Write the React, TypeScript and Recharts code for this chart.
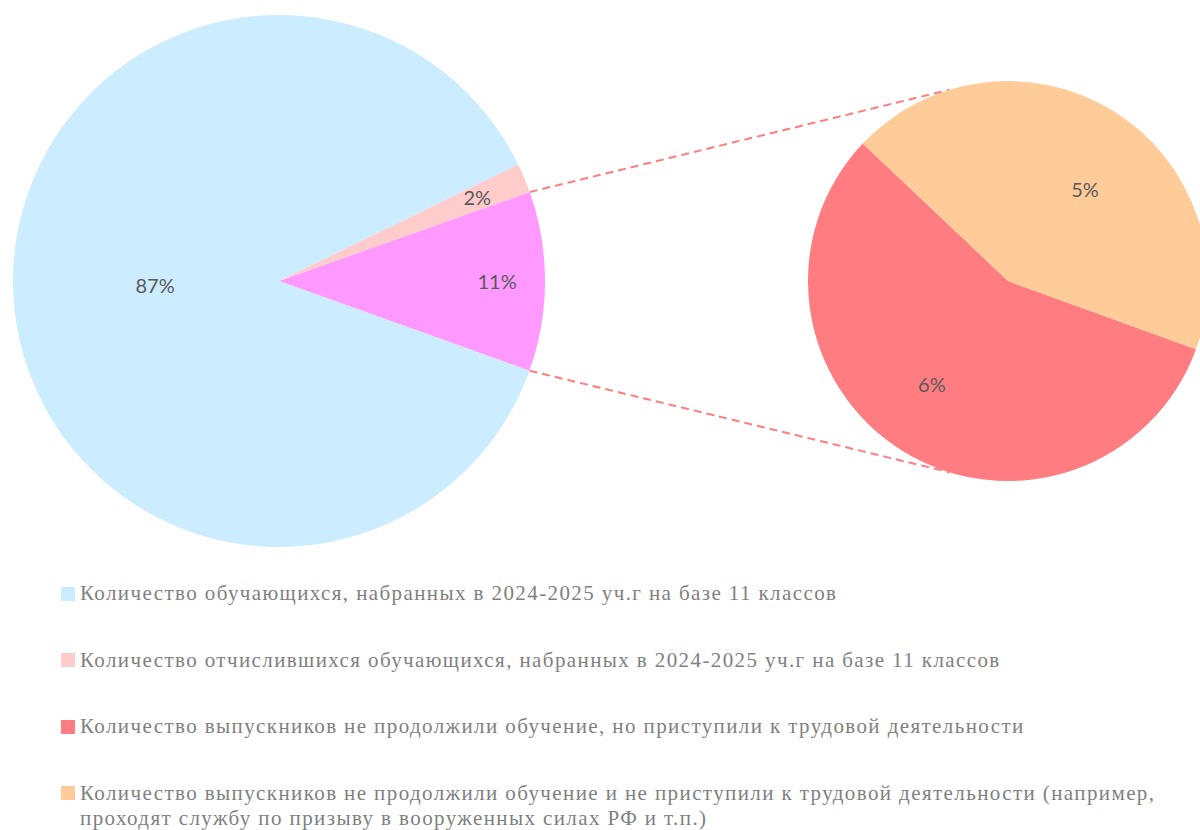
import React from "react";
import { PieChart, Pie, Cell, Customized } from "recharts";

// ---- data ----
const mainNames = ["Прочее", "Количество отчислившихся обучающихся, набранных в 2024-2025 уч.г на базе 11 классов", "Количество обучающихся, набранных в 2024-2025 уч.г на базе 11 классов"];
const mainValues = [10.9, 1.8, 87.3];
const mainLabels = ["11%", "2%", "87%"];
const mainColors = ["#FF99FF", "#FFCCCC", "#CCECFF"];

const subNames = ["Количество выпускников не продолжили обучение, но приступили к трудовой деятельности", "Количество выпускников не продолжили обучение и не приступили к трудовой деятельности (например, проходят службу по призыву в вооруженных силах РФ и т.п.)"];
const subValues = [6.16, 4.74];
const subLabels = ["6%", "5%"];
const subColors = ["#FF7C80", "#FFCC99"];

const legendNames = [
  "Количество обучающихся, набранных в 2024-2025 уч.г на базе 11 классов",
  "Количество отчислившихся обучающихся, набранных в 2024-2025 уч.г на базе 11 классов",
  "Количество выпускников не продолжили обучение, но приступили к трудовой деятельности",
  "Количество выпускников не продолжили обучение и не приступили к трудовой деятельности (например, проходят службу по призыву в вооруженных силах РФ и т.п.)",
];
const legendColors = ["#CCECFF", "#FFCCCC", "#FF7C80", "#FFCC99"];

const mainData = mainNames.map((n, i) => ({ name: n, value: mainValues[i], label: mainLabels[i] }));
const subData = subNames.map((n, i) => ({ name: n, value: subValues[i], label: subLabels[i] }));

// ---- layout / style ----
const W = 1200;
const H = 568;
const MAIN = { cx: 279, cy: 281, r: 266, start: -19.7 };
const SUB = { cx: 1008, cy: 281, r: 200, start: 136.6 };
const CONNECT_SUB_ANGLE = 107;
const mainLabelPos = [
  { f: 0.82, da: 0 },
  { f: 0.81, da: 0.3 },
  { f: 0.466, da: -1.3 },
];
const subLabelPos = [
  { f: 0.64, da: -4.8 },
  { f: 0.6, da: -8.3 },
];
const RAD = Math.PI / 180;

const polar = (cx: number, cy: number, r: number, a: number) => ({
  x: cx + r * Math.cos(-a * RAD),
  y: cy + r * Math.sin(-a * RAD),
});

const makeLabel = (pos: { f: number; da: number }[]) => (props: any) => {
  const { cx, cy, midAngle, outerRadius, index, payload } = props;
  const p = pos[index];
  const pt = polar(cx, cy, outerRadius * p.f, midAngle + p.da);
  return (
    <text
      x={pt.x}
      y={pt.y}
      textAnchor="middle"
      dominantBaseline="central"
      fill="#595959"
      fontFamily="Lato, 'Noto Sans', sans-serif"
      fontSize={20}
    >
      {payload.label}
    </text>
  );
};

const Connectors = () => {
  const total = mainValues.reduce((a, b) => a + b, 0);
  const a1 = MAIN.start;
  const a2 = MAIN.start + (mainValues[0] / total) * 360;
  const p1 = polar(MAIN.cx, MAIN.cy, MAIN.r, a2);
  const q1 = polar(SUB.cx, SUB.cy, SUB.r, CONNECT_SUB_ANGLE);
  const p2 = polar(MAIN.cx, MAIN.cy, MAIN.r, a1);
  const q2 = polar(SUB.cx, SUB.cy, SUB.r, -CONNECT_SUB_ANGLE);
  return (
    <g>
      <line x1={p1.x} y1={p1.y} x2={q1.x} y2={q1.y} stroke="#FF7C80" strokeWidth={2} strokeDasharray="8 5" />
      <line x1={p2.x} y1={p2.y} x2={q2.x} y2={q2.y} stroke="#FF7C80" strokeWidth={2} strokeDasharray="8 5" />
    </g>
  );
};

export default function App() {
  return (
    <div style={{ position: "absolute", left: 0, top: 0, width: W, height: 830, overflow: "hidden", background: "#fff" }}>
      <div style={{ width: W, height: H }}>
        <PieChart width={W} height={H} margin={{ top: 0, right: 0, bottom: 0, left: 0 }}>
          <Pie
            data={mainData}
            dataKey="value"
            cx={MAIN.cx}
            cy={MAIN.cy}
            outerRadius={MAIN.r}
            startAngle={MAIN.start}
            endAngle={MAIN.start + 360}
            stroke="none"
            label={makeLabel(mainLabelPos)}
            labelLine={false}
            isAnimationActive={false}
          >
            {mainData.map((d, i) => (
              <Cell key={i} fill={mainColors[i]} />
            ))}
          </Pie>
          <Pie
            data={subData}
            dataKey="value"
            cx={SUB.cx}
            cy={SUB.cy}
            outerRadius={SUB.r}
            startAngle={SUB.start}
            endAngle={SUB.start + 360}
            stroke="none"
            label={makeLabel(subLabelPos)}
            labelLine={false}
            isAnimationActive={false}
          >
            {subData.map((d, i) => (
              <Cell key={i} fill={subColors[i]} />
            ))}
          </Pie>
          <Customized component={Connectors} />
        </PieChart>
      </div>
      <div style={{ marginTop: 13, fontFamily: "'Liberation Serif', 'Times New Roman', serif", fontSize: 21, lineHeight: "25px", letterSpacing: "1.4px", color: "#808080" }}>
        {legendNames.map((n, i) => (
          <div key={i} style={{ display: "flex", alignItems: "flex-start", marginBottom: i < legendNames.length - 1 ? 41.5 : 0 }}>
            <div style={{ width: 14, height: 14, background: legendColors[i], marginLeft: 61, marginTop: 5.5, flex: "0 0 14px" }} />
            <div style={{ marginLeft: 5, width: 1110 }}>{n}</div>
          </div>
        ))}
      </div>
    </div>
  );
}
